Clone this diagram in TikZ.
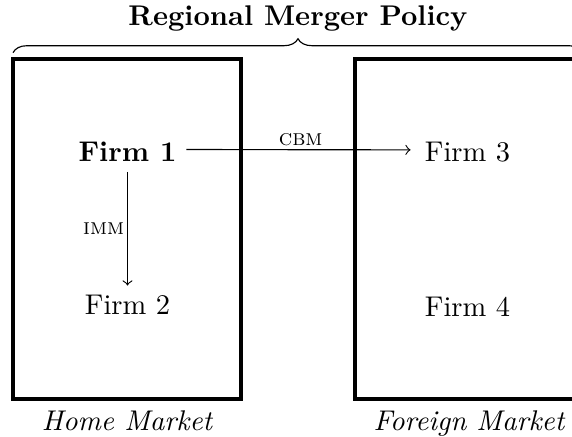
\documentclass[tikz,border=0pt]{standalone}
\usetikzlibrary{decorations.pathreplacing}
\begin{document}
\begin{tikzpicture}[x=0.3509pt,y=-0.3509pt,
  market/.style={draw, very thick, minimum width=80pt, minimum height=119.4pt, inner sep=0pt},
  firm/.style={inner sep=3.33pt, anchor=base},
  flow/.style={->, thin},
  tag/.style={font=\footnotesize\scshape, inner sep=1pt},
  mlabel/.style={below, font=\itshape}]
\useasboundingbox (0,0) rectangle (572,437);
% title and brace
\node[anchor=base, font=\bfseries] (title) at (298,26) {Regional Merger Policy};
\coordinate (bl) at (13,52.7);
\coordinate (br) at (583,52.7);
\draw[decorate, decoration={brace, amplitude=4.9pt}] (bl) -- (br);
% markets
\node[market] (home) at (127,229) {};
\node[market] (foreign) at (469,229) {};
\node[mlabel] (hl) at (home.south) {Home Market};
\node[mlabel] (fl) at (foreign.south) {Foreign Market};
% firms
\node[firm, font=\bfseries] (f1) at (127.5,161.7) {Firm 1};
\node[firm] (f2) at (127.5,315) {Firm 2};
\node[firm] (f3) at (467.5,161.7) {Firm 3};
\node[firm] (f4) at (467.5,316.5) {Firm 4};
% mergers
\draw[flow, shorten >=1.5pt] ([yshift=0.85pt]f1.east) -- node[tag, above] {cbm} ([yshift=0.85pt]f3.west);
\draw[flow] (f1.south) -- node[tag, left] {imm} (f2.north);
\end{tikzpicture}
\end{document}
